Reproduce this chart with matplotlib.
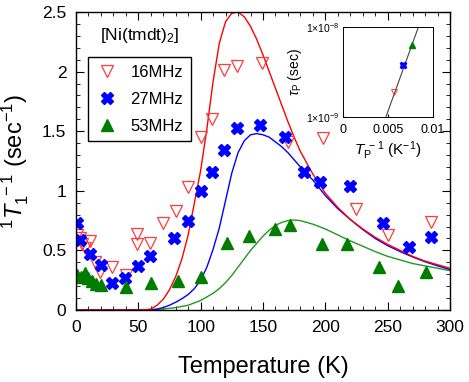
import matplotlib
matplotlib.use("Agg")
import matplotlib.pyplot as plt
from matplotlib.ticker import MultipleLocator, FixedLocator, NullLocator

plt.rcParams['font.family'] = ['Liberation Sans', 'DejaVu Sans']
plt.rcParams['mathtext.fontset'] = 'custom'
plt.rcParams['mathtext.rm'] = 'Liberation Sans'
plt.rcParams['mathtext.it'] = 'Liberation Sans:italic'

# measured points (T in K, 1/T1 in 1/sec)
t16 = [1, 3, 5, 7, 11, 15, 19, 29, 40, 49, 49, 59, 70, 80, 90, 100, 109, 119, 129, 149, 170, 198, 225, 250, 285]
r16 = [0.63, 0.60, 0.55, 0.52, 0.58, 0.40, 0.32, 0.36, 0.29, 0.64, 0.55, 0.56, 0.73, 0.83, 1.03, 1.45, 1.60, 2.01, 2.05, 2.07, 1.41, 1.44, 0.85, 0.63, 0.74]

t27 = [1, 3, 11, 20, 29, 39, 50, 59, 79, 90, 100, 109, 119, 129, 148, 168, 183, 196, 220, 246, 267, 285]
r27 = [0.73, 0.59, 0.47, 0.38, 0.23, 0.27, 0.37, 0.45, 0.60, 0.75, 1.00, 1.16, 1.34, 1.53, 1.55, 1.45, 1.16, 1.07, 1.04, 0.73, 0.53, 0.61]

t53 = [1, 4, 7, 10, 13, 16, 20, 40, 60, 82, 100, 121, 139, 160, 172, 197, 217, 243, 258, 281]
r53 = [0.29, 0.28, 0.31, 0.27, 0.24, 0.22, 0.21, 0.19, 0.23, 0.24, 0.28, 0.56, 0.62, 0.68, 0.71, 0.55, 0.55, 0.36, 0.20, 0.32]

# fit curves
ft16 = [0, 50, 55, 60, 65, 70, 75, 80, 85, 90, 95, 100, 105, 110, 115, 120, 125, 130, 135, 140, 145, 150,
        155, 160, 165, 170, 175, 180, 190, 200, 210, 220, 230, 240, 250, 260, 270, 280, 290, 300]
fr16 = [0, 0.0, 0.002, 0.008, 0.04, 0.09, 0.17, 0.28, 0.43, 0.63, 0.90, 1.17, 1.52, 1.92, 2.24, 2.42, 2.49, 2.50, 2.46, 2.38, 2.27, 2.14,
        2.00, 1.86, 1.72, 1.58, 1.45, 1.33, 1.14, 0.98, 0.86, 0.76, 0.68, 0.61, 0.55, 0.50, 0.45, 0.41, 0.38, 0.35]

ft27 = [0, 55, 60, 65, 70, 75, 80, 85, 90, 95, 100, 105, 110, 115, 120, 125, 130, 135, 140, 145, 150,
        155, 160, 165, 170, 175, 180, 190, 200, 210, 220, 230, 240, 250, 260, 270, 280, 290, 300]
fr27 = [0, 0.0, 0.002, 0.008, 0.02, 0.04, 0.065, 0.095, 0.13, 0.18, 0.25, 0.36, 0.51, 0.69, 0.92, 1.15, 1.32, 1.42, 1.47, 1.48, 1.47,
        1.45, 1.41, 1.37, 1.32, 1.26, 1.20, 1.09, 0.96, 0.85, 0.76, 0.675, 0.60, 0.54, 0.49, 0.445, 0.405, 0.37, 0.34]

ft53 = [0, 60, 70, 80, 90, 100, 110, 115, 120, 125, 130, 135, 140, 145, 150, 155, 160, 165, 170, 175, 180,
        185, 190, 200, 210, 220, 230, 240, 250, 260, 270, 280, 290, 300]
fr53 = [0, 0.0, 0.008, 0.02, 0.04, 0.08, 0.14, 0.18, 0.23, 0.29, 0.36, 0.43, 0.50, 0.56, 0.62, 0.67, 0.71, 0.735, 0.75, 0.755, 0.75,
        0.735, 0.72, 0.68, 0.63, 0.58, 0.535, 0.49, 0.45, 0.42, 0.39, 0.37, 0.35, 0.33]

# inset: peak correlation time vs inverse peak temperature
tp_inv = [0.00573, 0.00667, 0.0077]
tau_p = [1.9e-9, 3.8e-9, 6.3e-9]
line_x = [0.00481, 0.0084]
line_y = [1e-9, 1e-8]

red = '#ff3b3b'
blue = '#0000ff'
green = '#007d00'

fig = plt.figure(figsize=(4.69, 3.82), dpi=100)
ax = fig.add_axes([0.162, 0.1885, 0.7975, 0.780])

ax.plot(ft53, fr53, color='#1f9a1f', lw=1.0)
ax.plot(ft27, fr27, color=blue, lw=1.0)
ax.plot(ft16, fr16, color='#ff0000', lw=1.0)

ax.plot(t16, r16, 'v', ms=8, mfc='none', mec=red, mew=0.9, label='16MHz')
ax.plot(t27, r27, 'X', ms=9, color=blue, mec=blue, label='27MHz')
ax.plot(t53, r53, '^', ms=9, color=green, mec=green, label='53MHz')

ax.set_xlim(0, 300)
ax.set_ylim(0, 2.5)
ax.xaxis.set_major_locator(MultipleLocator(50))
ax.xaxis.set_minor_locator(MultipleLocator(10))
ax.yaxis.set_minor_locator(MultipleLocator(0.1))
ax.set_yticks([0, 0.5, 1, 1.5, 2, 2.5])
ax.set_yticklabels(['0', '0.5', '1', '1.5', '2', '2.5'])
ax.tick_params(which='both', direction='in', top=True, right=True, labelsize=12.5, pad=7)
ax.tick_params(which='major', length=6, width=0.8)
ax.tick_params(which='minor', length=3, width=0.6)
for s in ax.spines.values():
    s.set_linewidth(1.0)

ax.set_xlabel('Temperature (K)', fontsize=17, labelpad=15)
ax.set_ylabel(r'$^{1}T_{1}^{\ -1}$ (sec$^{-1}$)', fontsize=17, labelpad=8)

leg = ax.legend(loc='upper left', bbox_to_anchor=(0.032, 0.849), borderaxespad=0, fontsize=12,
                frameon=True, fancybox=False, edgecolor='black', framealpha=1,
                handletextpad=0.7, labelspacing=0.72, borderpad=0.45, handlelength=1.4)
leg.get_frame().set_linewidth(1.0)
ax.text(0.065, 0.905, r'[Ni(tmdt)$_2$]', transform=ax.transAxes, fontsize=12.5)

# inset
ins = fig.add_axes([0.7307, 0.6945, 0.1919, 0.234])
ins.plot(line_x, line_y, color='#444444', lw=0.8)
ins.plot(tp_inv[0], tau_p[0], 'v', ms=4, mfc='none', mec=red, mew=0.7)
ins.plot(tp_inv[1], tau_p[1], 'X', ms=4.5, color=blue)
ins.plot(tp_inv[2], tau_p[2], '^', ms=4.5, color=green)
ins.set_yscale('log')
ins.set_xlim(0, 0.01)
ins.set_ylim(1e-9, 1e-8)
ins.xaxis.set_major_locator(FixedLocator([0, 0.005, 0.01]))
ins.set_xticklabels(['0', '0.005', '0.01'])
ins.yaxis.set_major_locator(FixedLocator([1e-9, 1e-8]))
ins.yaxis.set_minor_locator(NullLocator())
ins.set_yticklabels([r'1$\times$10$^{-9}$', r'1$\times$10$^{-8}$'])
ins.tick_params(axis='x', direction='in', labelsize=9, length=2, pad=5)
ins.tick_params(axis='y', direction='in', labelsize=7.5, length=2, pad=2)
for s in ins.spines.values():
    s.set_linewidth(0.7)
ins.set_xlabel(r'$T_{\rm P}^{\ -1}$ (K$^{-1}$)', fontsize=11, labelpad=3)
ins.set_ylabel(r'$\tau_{\rm P}$ (sec)', fontsize=10, labelpad=2)

fig.savefig('out.png', dpi=100)
